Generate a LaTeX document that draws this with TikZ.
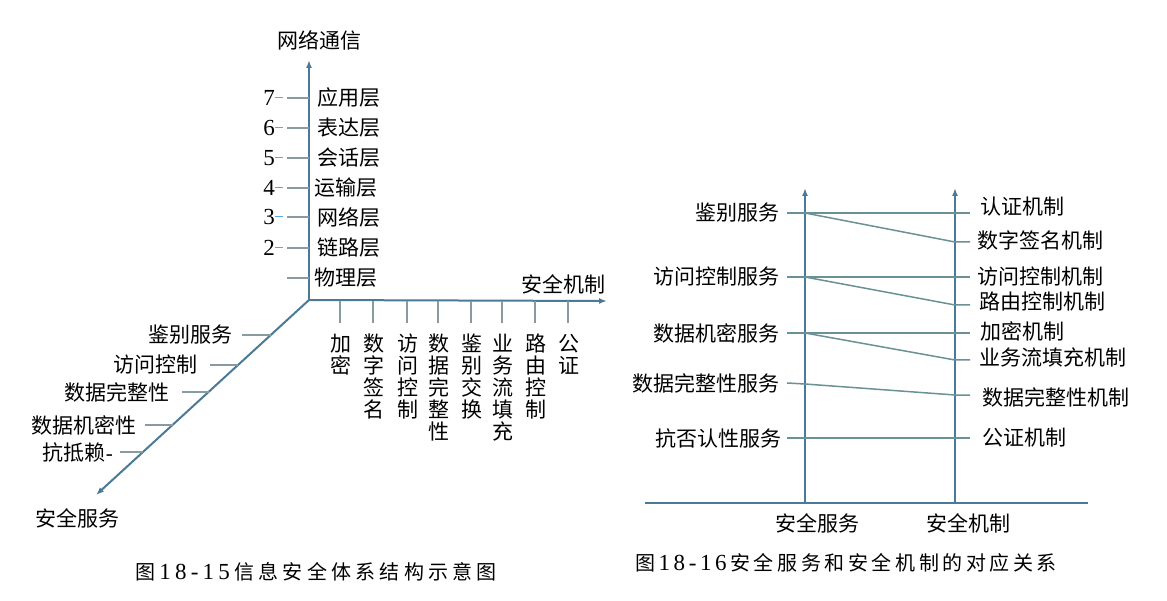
\documentclass[tikz,border=0pt]{standalone}
\usepackage{fontspec}
\setmainfont{Liberation Serif}
\newfontfamily\cjk{Noto Sans CJK SC}
\usetikzlibrary{arrows.meta}
\definecolor{axiscol}{RGB}{74,122,150}
\definecolor{tickcol}{RGB}{135,155,160}
\definecolor{mapcol}{RGB}{105,145,150}
\definecolor{dashcol}{RGB}{90,170,220}
\begin{document}
\begin{tikzpicture}[x=1pt,y=-1pt,
  lbl/.style={inner sep=0pt,font=\cjk\fontsize{21}{22}\selectfont},
  num/.style={inner sep=0pt,font=\rmfamily\fontsize{23}{24}\selectfont},
  axisarrow/.style={draw=axiscol,line width=2pt,-{Latex[length=8pt,width=6pt]}},
  axisline/.style={draw=axiscol,line width=2pt},
  tickline/.style={draw=tickcol,line width=1.6pt},
  maplink/.style={draw=mapcol,line width=1.5pt},
  vlbl/.style={inner sep=0pt,anchor=north,align=center,font=\cjk\fontsize{21}{22}\selectfont},
  capt/.style={inner sep=0pt,font=\fontsize{20}{22}\selectfont}]
\useasboundingbox (0,0) rectangle (1167,601);
\fill[white] (0,0) rectangle (1167,601);

% ================= left figure =================
\coordinate (O) at (309,300);
\coordinate (Vtop) at (309,60);
\coordinate (Htip) at (607,301);
\coordinate (Dtip) at (96,495);
\draw[axisarrow] (O) -- (Vtop);
\draw[axisarrow] (O) -- (Htip);
\draw[axisarrow] (O) -- (Dtip);

\node[lbl] (comm) at (319,40) {网络通信};
\node[lbl] (mech) at (563,284) {安全机制};
\node[lbl] (serv) at (77,518) {安全服务};

% layers
\foreach \y/\t/\lx [count=\i] in {98/应用层/317,128/表达层/317,158/会话层/317,188/运输层/314,217/网络层/317,248/链路层/317,278/物理层/314} {
  \coordinate (lt\i) at (287,\y);
  \coordinate (la\i) at (309,\y);
  \draw[tickline] (lt\i) -- (la\i);
  \node[lbl,anchor=west] (layer\i) at (\lx,\y) {\t};
}
\foreach \y/\n [count=\i] in {98/7,128/6,158/5,188/4,217/3,248/2} {
  \node[num,anchor=east] (n\i) at (275,\y) {\n};
  \coordinate (nd\i) at (283,\y);
  \draw[dashcol,line width=1pt] (n\i.east) -- (nd\i);
}

% mechanisms on horizontal axis
\foreach \x/\t [count=\i] in {340/{加\\密},373/{数\\字\\签\\名},407/{访\\问\\控\\制},438/{数\\据\\完\\整\\性},471/{鉴\\别\\交\\换},502/{业\\务\\流\\填\\充},535/{路\\由\\控\\制},568/{公\\证}} {
  \coordinate (ht\i) at (\x,301);
  \coordinate (hb\i) at (\x,323);
  \draw[tickline] (ht\i) -- (hb\i);
  \node[vlbl] (mv\i) at (\x+1,334) {\t};
}

% services on diagonal axis
\foreach \y/\t/\ex/\tx/\dx [count=\i] in {335/鉴别服务/233/242/270.8,365/访问控制/198/210/238,392/数据完整性/170/182/208.5,425/数据机密性/137/145/172.5} {
  \node[lbl,anchor=east] (sv\i) at (\ex,\y) {\t};
  \coordinate (st\i) at (\tx,\y);
  \coordinate (sd\i) at (\dx,\y);
  \draw[tickline] (st\i) -- (sd\i);
}
\node[lbl,anchor=east] (sv5) at (113,452) {抗抵赖{\rmfamily -}};
\coordinate (st5) at (120,452);
\coordinate (sd5) at (143,452);
\draw[tickline] (st5) -- (sd5);

\node[capt] (cap1) at (316,572) {\makebox[362pt][s]{\cjk 图\hfill\rmfamily\fontsize{23}{24}\selectfont 1\hfill 8\hfill -\hfill 1\hfill 5\hfill\cjk\fontsize{20}{22}\selectfont 信\hfill 息\hfill 安\hfill 全\hfill 体\hfill 系\hfill 结\hfill 构\hfill 示\hfill 意\hfill 图}};

% ================= right figure =================
\coordinate (Lb) at (805,503);
\coordinate (Lt) at (805,188);
\coordinate (Rb) at (955,503);
\coordinate (Rt) at (955,188);
\coordinate (Bl) at (645,503);
\coordinate (Br) at (1088,503);
\draw[axisarrow] (Lb) -- (Lt);
\draw[axisarrow] (Rb) -- (Rt);
\draw[axisline] (Bl) -- (Br);
\node[lbl] (bs) at (817,523) {安全服务};
\node[lbl] (bm) at (968,523) {安全机制};

% services (left)
\node[lbl,anchor=east] (r1) at (780,213) {鉴别服务};
\node[lbl,anchor=east] (r2) at (780,277) {访问控制服务};
\node[lbl,anchor=east] (r3) at (780,333) {数据机密服务};
\node[lbl,anchor=east] (r4) at (780,383) {数据完整性服务};
\node[lbl,anchor=east] (r5) at (782,438) {抗否认性服务};

% mechanisms (right)
\node[lbl,anchor=west] (m1) at (980,207) {认证机制};
\node[lbl,anchor=west] (m2) at (977,240) {数字签名机制};
\node[lbl,anchor=west] (m3) at (977,277) {访问控制机制};
\node[lbl,anchor=west] (m4) at (979,302) {路由控制机制};
\node[lbl,anchor=west] (m5) at (980,331) {加密机制};
\node[lbl,anchor=west] (m6) at (979,357) {业务流填充机制};
\node[lbl,anchor=west] (m7) at (982,397) {数据完整性机制};
\node[lbl,anchor=west] (m8) at (982,438) {公证机制};

% link points
\coordinate (a1) at (787,213); \coordinate (p1) at (805,213); \coordinate (e1) at (970,213);
\coordinate (q1) at (955,242); \coordinate (f1) at (970,242);
\coordinate (a2) at (787,277); \coordinate (p2) at (805,277); \coordinate (e2) at (970,277);
\coordinate (q2) at (955,305); \coordinate (f2) at (970,305);
\coordinate (a3) at (787,333); \coordinate (p3) at (805,333); \coordinate (e3) at (970,333);
\coordinate (q3) at (955,360); \coordinate (f3) at (970,360);
\coordinate (a4) at (787,383); \coordinate (p4) at (805,384);
\coordinate (q4) at (955,395); \coordinate (f4) at (970,395);
\coordinate (a5) at (787,438); \coordinate (e5) at (970,438);

\draw[maplink] (a1) -- (e1);
\draw[maplink] (p1) -- (q1) -- (f1);
\draw[maplink] (a2) -- (e2);
\draw[maplink] (p2) -- (q2) -- (f2);
\draw[maplink] (a3) -- (e3);
\draw[maplink] (p3) -- (q3) -- (f3);
\draw[maplink] (a4) -- (p4) -- (q4) -- (f4);
\draw[maplink] (a5) -- (e5);

\node[capt] (cap2) at (846,563) {\makebox[422pt][s]{\cjk 图\hfill\rmfamily\fontsize{23}{24}\selectfont 1\hfill 8\hfill -\hfill 1\hfill 6\hfill\cjk\fontsize{20}{22}\selectfont 安\hfill 全\hfill 服\hfill 务\hfill 和\hfill 安\hfill 全\hfill 机\hfill 制\hfill 的\hfill 对\hfill 应\hfill 关\hfill 系}};
\end{tikzpicture}
\end{document}
